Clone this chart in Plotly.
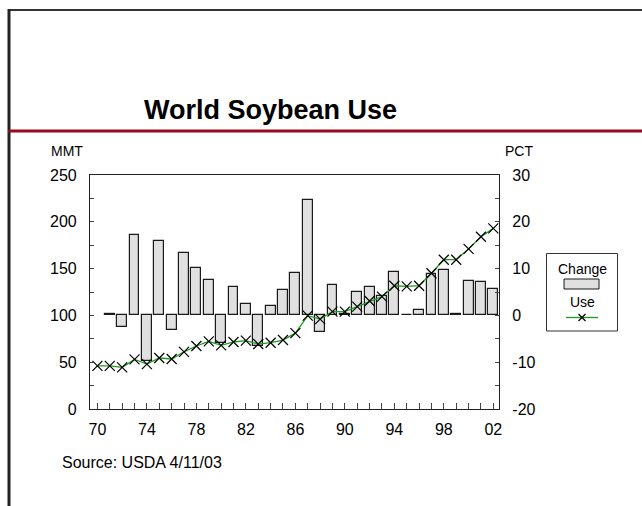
import plotly.graph_objects as go

# ---- data ----
years = [1970, 1971, 1972, 1973, 1974, 1975, 1976, 1977, 1978, 1979, 1980,
         1981, 1982, 1983, 1984, 1985, 1986, 1987, 1988, 1989, 1990, 1991,
         1992, 1993, 1994, 1995, 1996, 1997, 1998, 1999, 2000, 2001, 2002]
use_mmt = [46, 46, 44.5, 53, 48, 54.5, 53.4, 61, 67.3, 72.3, 68, 71.6, 73,
           69.4, 70.8, 73.7, 81, 99.7, 96, 104, 104, 109.3, 115.4, 120,
           131.7, 131, 131.7, 145, 159.5, 159.5, 171, 184, 193]
change_years = years[1:]
change_pct = [0.4, -2.4, 17.2, -9.8, 15.8, -3.2, 13.3, 10.2, 7.5, -5.9, 6.0,
              2.4, -6.6, 2.1, 5.4, 9.0, 24.6, -3.6, 6.5, 0.4, 5.1, 6.0, 4.1,
              9.3, 0.15, 1.2, 8.8, 9.7, 0.25, 7.4, 7.1, 5.6]
xtick_vals = [1970, 1974, 1978, 1982, 1986, 1990, 1994, 1998, 2002]
xtick_text = ["70", "74", "78", "82", "86", "90", "94", "98", "02"]
pct_tick_vals = [-20, -10, 0, 10, 20, 30]
pct_tick_text = ["-20", "-10", "0", "10", "20", "30"]

W, H = 642, 506
L, R, T, B = 90, 499, 175, 409
FONT = "Liberation Sans, Arial, sans-serif"


def px(x):
    return (x - L) / (R - L)


def py(y):
    return (B - y) / (B - T)


fig = go.Figure()
fig.add_trace(go.Bar(
    x=change_years, y=change_pct, yaxis="y", name="Change", width=0.8,
    marker=dict(color="#e0e0e0", line=dict(color="#1a1a1a", width=1.2)),
    showlegend=False))
fig.add_trace(go.Scatter(
    x=years, y=use_mmt, yaxis="y2", name="Use", mode="lines+markers",
    line=dict(color="#1f9a1f", width=1.3),
    marker=dict(symbol="x-thin", size=10, color="black",
                line=dict(color="black", width=1.2)),
    showlegend=False))

axis_common = dict(showline=True, linecolor="#222", linewidth=1.2,
                   ticks="inside", tickcolor="#444", ticklen=4,
                   showgrid=False, zeroline=False,
                   tickfont=dict(family=FONT, size=16, color="black"))

fig.update_layout(
    width=W, height=H,
    margin=dict(l=L, r=W - R, t=T, b=H - B, pad=0),
    paper_bgcolor="white", plot_bgcolor="white",
    bargap=0,
    xaxis=dict(range=[1969.4, 2002.46], tickmode="array",
               tickvals=xtick_vals, ticktext=xtick_text, mirror=True,
               ticklen=6, ticklabelstandoff=6,
               minor=dict(dtick=1, tick0=1970, ticks="inside", ticklen=6,
                          tickcolor="#444"),
               **{k: v for k, v in axis_common.items() if k != "ticklen"}),
    yaxis=dict(range=[-20, 30], tickmode="array", tickvals=pct_tick_vals,
               ticktext=pct_tick_text, side="right", ticklabelstandoff=9,
               minor=dict(dtick=5, ticks="inside", ticklen=4, tickcolor="#444"),
               **axis_common),
    yaxis2=dict(range=[0, 250], dtick=50, side="left", overlaying="y",
                ticklabelstandoff=9,
                minor=dict(dtick=25, ticks="inside", ticklen=4, tickcolor="#444"),
                **axis_common),
)

shapes = []
# slide frame lines
shapes.append(dict(type="line", xref="paper", yref="paper",
                   x0=px(8), x1=px(642), y0=py(10), y1=py(10),
                   line=dict(color="#333", width=2)))
shapes.append(dict(type="line", xref="paper", yref="paper",
                   x0=px(9), x1=px(9), y0=py(9), y1=py(506),
                   line=dict(color="#222", width=3)))
# red rule under title
shapes.append(dict(type="line", xref="paper", yref="paper",
                   x0=px(8), x1=px(642), y0=py(131), y1=py(131),
                   line=dict(color="#990a1e", width=3)))
# legend box
shapes.append(dict(type="rect", xref="paper", yref="paper",
                   x0=px(546.5), x1=px(617.5), y0=py(253.5), y1=py(331),
                   line=dict(color="#333", width=1), fillcolor="white"))
shapes.append(dict(type="rect", xref="paper", yref="paper",
                   x0=px(564), x1=px(599), y0=py(279), y1=py(289),
                   line=dict(color="#1a1a1a", width=1), fillcolor="#e0e0e0"))
shapes.append(dict(type="line", xref="paper", yref="paper",
                   x0=px(566), x1=px(598), y0=py(317.5), y1=py(317.5),
                   line=dict(color="#1f9a1f", width=1.3)))
shapes.append(dict(type="line", xref="paper", yref="paper",
                   x0=px(578.5), x1=px(585.5), y0=py(314), y1=py(321),
                   line=dict(color="black", width=1.2)))
shapes.append(dict(type="line", xref="paper", yref="paper",
                   x0=px(578.5), x1=px(585.5), y0=py(321), y1=py(314),
                   line=dict(color="black", width=1.2)))
fig.update_layout(shapes=shapes)

ann = [
    dict(text="<b>World Soybean Use</b>", x=px(270.5), y=py(110),
         font=dict(family=FONT, size=27, color="black")),
    dict(text="MMT", x=px(67), y=py(151), font=dict(family=FONT, size=14, color="black")),
    dict(text="PCT", x=px(519), y=py(151), font=dict(family=FONT, size=14, color="black")),
    dict(text="Change", x=px(582), y=py(269), font=dict(family=FONT, size=14, color="black")),
    dict(text="Use", x=px(582), y=py(302), font=dict(family=FONT, size=14, color="black")),
    dict(text="Source: USDA 4/11/03", x=px(60), y=py(462), xanchor="left",
         font=dict(family=FONT, size=16, color="black")),
]
for a in ann:
    a.setdefault("xanchor", "center")
    a.update(xref="paper", yref="paper", yanchor="middle", showarrow=False)
fig.update_layout(annotations=ann)

fig.write_html("out.html", config={"displayModeBar": False},
               post_script="document.body.style.margin='0';"
                           "document.body.style.overflow='hidden';")
